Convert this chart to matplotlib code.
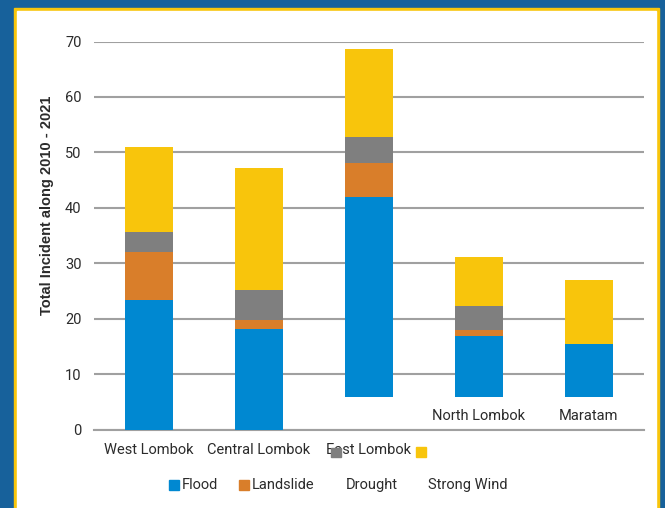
import numpy as np
import matplotlib
matplotlib.use('Agg')
import matplotlib.pyplot as plt
from matplotlib.patches import Rectangle

# ── Data ──────────────────────────────────────────────
regions = ["West Lombok", "Central Lombok", "East Lombok", "North Lombok", "Maratam"]
base = [0, 0, 5.9, 5.9, 5.9]          # bars on the right start above zero in the source
flood = [23.4, 18.1, 36.1, 11.0, 9.5]
landslide = [8.7, 1.6, 6.0, 1.1, 0]
drought = [3.6, 5.4, 4.8, 4.3, 0]
strong_wind = [15.3, 22.0, 15.9, 8.9, 11.6]
yticks = [0, 10, 20, 30, 40, 50, 60, 70]

series = [("Flood", flood, "#0088d1"),
          ("Landslide", landslide, "#d97e2a"),
          ("Drought", drought, "#7f7f7f"),
          ("Strong Wind", strong_wind, "#f8c50c")]

W, H = 665, 508
fig = plt.figure(figsize=(W / 100, H / 100), dpi=100, facecolor="#17619b")

# frame: yellow border + white panel (behind the axes)
fig.patches.append(Rectangle((14 / W, 0), (659 - 14) / W, 1 - 7.5 / H,
                             transform=fig.transFigure, color="#f8c50c", zorder=-2))
fig.patches.append(Rectangle((16.5 / W, 0), (656 - 16.5) / W, 1 - 10.5 / H,
                             transform=fig.transFigure, color="#ffffff", zorder=-1))

ax = fig.add_axes([94 / W, 1 - 429.5 / H, (644 - 94) / W, (429.5 - 41.5) / H])
ax.set_facecolor("none")

x = np.arange(len(regions))
bottom = np.array(base, dtype=float)
for name, vals, col in series:
    vals = np.array(vals, dtype=float)
    ax.bar(x, vals, width=0.43, bottom=bottom, color=col, zorder=3)
    bottom = bottom + vals

ax.set_xlim(-0.5, len(regions) - 0.5)
ax.set_ylim(0, 70)
ax.set_yticks(yticks)
ax.yaxis.grid(True, color="#a0a0a0", lw=1.5, zorder=0)
for sp in ["top", "right", "left"]:
    ax.spines[sp].set_visible(False)
ax.spines["bottom"].set_color("#a0a0a0")
ax.spines["bottom"].set_linewidth(1.5)

tick_font = dict(family="Roboto", size=10.5, color="#2b2b2b")
ax.tick_params(axis="y", length=0, pad=9, labelsize=10.5, labelcolor="#2b2b2b")
for lab in ax.get_yticklabels():
    lab.set_family("Roboto")

# first three region labels sit below the axis, the last two above it
ax.set_xticks(x[:3])
ax.set_xticklabels(regions[:3], **tick_font)
ax.tick_params(axis="x", length=0, pad=9.5)
for i in range(3, len(regions)):
    ax.text(x[i], 2.5, regions[i], ha="center", va="center", **tick_font)

fig.text(47 / W, 1 - 205 / H, "Total Incident along 2010 - 2021", rotation=90,
         ha="center", va="center", family="Liberation Sans", weight="bold",
         size=10.5, color="#2b2b2b")

# stray legend markers for Drought / Strong Wind
fig.patches.append(Rectangle((331 / W, 1 - 457 / H), 10 / W, 9 / H,
                             transform=fig.transFigure, color="#7f7f7f", zorder=5))
fig.patches.append(Rectangle((416 / W, 1 - 457 / H), 10 / W, 10 / H,
                             transform=fig.transFigure, color="#f8c50c", zorder=5))

# legend row
ly = 1 - 485 / H
fig.patches.append(Rectangle((169 / W, 1 - 490 / H), 10 / W, 10 / H,
                             transform=fig.transFigure, color="#0088d1", zorder=5))
fig.text(182 / W, ly, "Flood", ha="left", va="center", **tick_font)
fig.patches.append(Rectangle((239 / W, 1 - 490 / H), 10 / W, 10 / H,
                             transform=fig.transFigure, color="#d97e2a", zorder=5))
fig.text(252 / W, ly, "Landslide", ha="left", va="center", **tick_font)
fig.text(346 / W, ly, "Drought", ha="left", va="center", **tick_font)
fig.text(428 / W, ly, "Strong Wind", ha="left", va="center", **tick_font)

fig.savefig("out.png", dpi=100, facecolor=fig.get_facecolor())
